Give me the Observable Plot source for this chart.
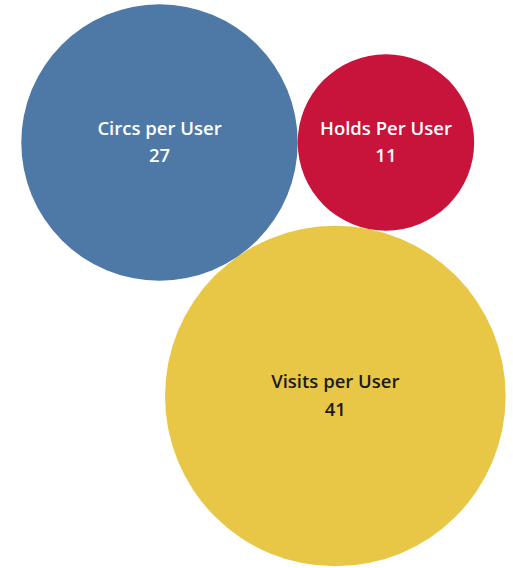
<!DOCTYPE html>
<html>
<head>
<meta charset="utf-8">
<script src="https://cdn.jsdelivr.net/npm/d3@7"></script>
<script src="https://cdn.jsdelivr.net/npm/@observablehq/plot@0.6"></script>
<style>
  html, body { margin: 0; padding: 0; background: #fff; }
  #chart svg { display: block; }
</style>
</head>
<body>
<div id="chart"></div>
<script>
// Data
const categories = ["Circs per User", "Holds Per User", "Visits per User"];
const values = [27, 11, 41];
const colors = ["#4e79a6", "#c8133a", "#e9c746"];
const textColors = ["#ffffff", "#ffffff", "#1a1a1a"];

// Layout settings
const W = 513, H = 568;
const k = 26.6; // pixels per sqrt(unit)
const maxR = k * Math.sqrt(d3.max(values));

const rows = categories.map((c, i) => ({
  category: c, value: values[i], r: k * Math.sqrt(values[i]), text: textColors[i]
}));
// mutually tangent packed bubbles
d3.packSiblings(rows);

const offX = 159 - rows[0].x;
const offY = 142 - rows[0].y;

const chart = Plot.plot({
  width: W,
  height: H,
  margin: 0,
  x: {domain: [-offX, W - offX], range: [0, W], axis: null},
  y: {domain: [-offY, H - offY], range: [0, H], axis: null},
  r: {type: "sqrt", domain: [0, d3.max(values)], range: [0, maxR]},
  color: {domain: categories, range: colors},
  marks: [
    Plot.dot(rows, {x: "x", y: "y", r: "value", fill: "category", stroke: null}),
    Plot.text(rows, {
      x: "x", y: "y",
      text: d => d.category + "\n" + d.value,
      fill: d => d.text,
      fontSize: 18.5,
      fontWeight: 600,
      fontFamily: "Open Sans",
      lineHeight: 1.5,
      textAnchor: "middle",
      lineAnchor: "middle",
      dy: -3
    })
  ]
});
document.getElementById("chart").appendChild(chart);
</script>
</body>
</html>
